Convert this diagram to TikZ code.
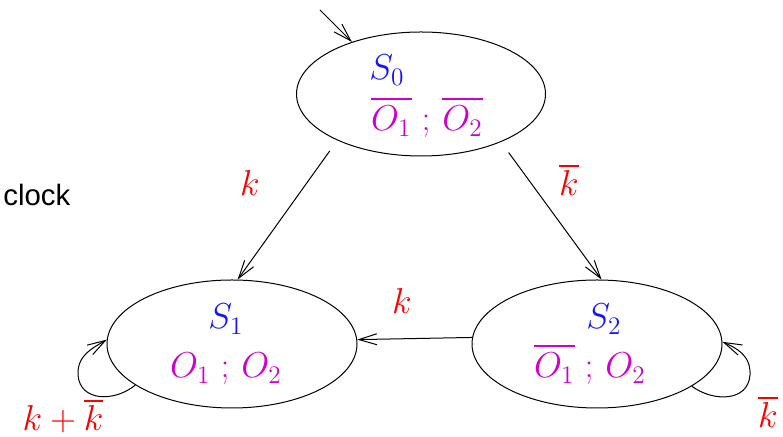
\RequirePackage{fix-cm}
\documentclass[tikz,border=0pt]{standalone}
\usepackage{fontspec}
\newfontfamily\clockfont{Liberation Sans}
\usetikzlibrary{shapes.geometric,arrows.meta}
\definecolor{stblue}{RGB}{20,20,255}
\definecolor{outmag}{RGB}{205,0,205}
\definecolor{lblred}{RGB}{255,0,0}
\newcommand\tbar[2][3pt]{\mathord{\vbox{\hrule height 1.2pt\kern #1\hbox{$#2$}}}}
\tikzset{
  state/.style={draw, ellipse, line width=0.5pt, inner sep=0pt},
  edge/.style={line width=0.5pt, -{Straight Barb[length=9pt,width=5.5pt,line width=0.5pt]}},
  mtxt/.style={font=\fontsize{18}{22}\selectfont, inner sep=0pt, anchor=base},
  stname/.style={mtxt, text=stblue},
  outs/.style={mtxt, text=outmag},
  cond/.style={mtxt, text=lblred},
}
\begin{document}
\begin{tikzpicture}[x=0.5pt,y=-0.5pt]
\useasboundingbox (0,0) rectangle (783,437);
% states
\node[state, minimum width=124.5pt, minimum height=62pt] (S0) at (421,94) {};
\node[state, minimum width=125pt, minimum height=64pt] (S1) at (232,344) {};
\node[state, minimum width=125pt, minimum height=64pt] (S2) at (597,344) {};
% state texts
\node[stname] (t0) at (387,80) {$S_0$};
\node[outs] (o0) at (427,131) {$\tbar{O_1}\;;\,\tbar{O_2}$};
\node[stname] (t1) at (226,329) {$S_1$};
\node[outs] (o1) at (226,378) {$O_1\;;\,O_2$};
\node[stname] (t2) at (604,329) {$S_2$};
\node[outs] (o2) at (590,378) {$\tbar{O_1}\;;\,O_2$};
% clock
\node[font=\clockfont\fontsize{14.7}{17}\selectfont, inner sep=0pt, anchor=base west] (clk) at (3,206) {clock};
% initial arrow
\coordinate (init) at (320,10);
\draw[edge] (init) -- (S0.143);
% transitions
\draw[edge, shorten <=6.5pt] (S0.209.4) -- (S1.85.5);
\draw[edge, shorten <=6.5pt] (S0.329) -- (S2.86);
\draw[edge] (S2.177.7) -- (S1.2.3);
% self loops
\draw[edge] (S1.203.5) .. controls (115,402) and (80,402) .. (78,375)
   .. controls (77,355) and (93,348) .. (S1.178.6);
\draw[edge] (S2.336.5) .. controls (713,402) and (748,402) .. (750,375)
   .. controls (751,355) and (736,348) .. (S2.1.4);
% labels
\node[cond] (lk1) at (250,196) {$k$};
\node[cond] (lk2) at (569,196) {$\tbar[2pt]{k}$};
\node[cond] (lk3) at (402,314) {$k$};
\node[cond] (lk4) at (63,431) {$k+\tbar[2pt]{k}$};
\node[cond] (lk5) at (768,428) {$\tbar[2pt]{k}$};
\end{tikzpicture}
\end{document}
